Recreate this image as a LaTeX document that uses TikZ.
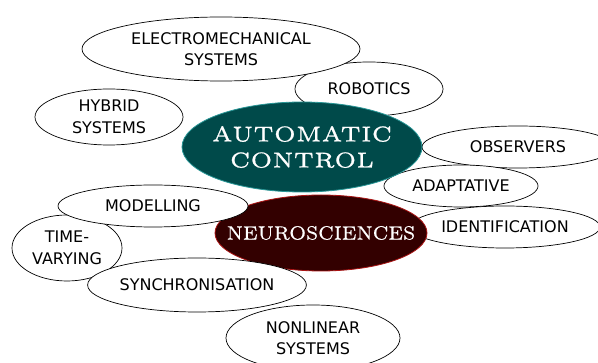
\documentclass[tikz,border=0pt]{standalone}
\usepackage{fontspec}
\newfontfamily\topicfont{DejaVu Sans}
\newfontfamily\controlfont[FakeBold=0.8]{lmroman5-regular.otf}
\newfontfamily\neurofont[FakeBold=0.6]{lmroman7-regular.otf}
\usetikzlibrary{shapes.geometric}

\definecolor{controlfill}{RGB}{0,74,74}
\definecolor{controlline}{RGB}{40,150,150}
\definecolor{neurofill}{RGB}{51,0,0}
\definecolor{neuroline}{RGB}{170,20,20}

\tikzstyle{topic}=[draw,line width=0.7pt,ellipse,fill=white,align=center,inner sep=0pt,
  font=\topicfont\fontsize{16}{21.5}\selectfont]
\tikzstyle{hub}=[draw,thick,ellipse,align=center,inner sep=0pt,text=white]
% zero-width line, so that the hub keeps the size it is given
\newcommand{\hubline}[1]{\makebox[0pt]{#1}}

\begin{document}
\begin{tikzpicture}[x=1pt, y=-1pt]
    \useasboundingbox (0,0) rectangle (598,363);
    \clip (0,0) rectangle (598,363);
    % First the topics that lie behind the two hubs
    \foreach \pos/\name/\w/\h/\txt in {{(313,338)/nonlinear/174/66/{NONLINEAR\\SYSTEMS}},
        {(369,89)/robotics/148/54/ROBOTICS},
        {(221,49)/electro/278/64/{ELECTROMECHANICAL\\SYSTEMS}},
        {(109,117)/hybrid/148/56/{HYBRID\\SYSTEMS}},
        {(518,147)/observers/192/42/OBSERVERS},
        {(505,227)/identification/190/42/IDENTIFICATION},
        {(461,186)/adaptative/154/42/ADAPTATIVE}}
        \node[topic, minimum width=\w, minimum height=\h] (\name) at \pos {\txt};
    % The two hubs
    \node[hub, fill=controlfill, draw=controlline, minimum width=240, minimum height=90,
      font=\controlfont\fontsize{21.5}{26}\selectfont] (control) at (302,147)
      {\hubline{AUTOMATIC}\\\hubline{CONTROL}};
    \node[hub, fill=neurofill, draw=neuroline, minimum width=212, minimum height=76,
      font=\neurofont\fontsize{19.2}{24}\selectfont] (neuro) at (321,233)
      {\hubline{NEUROSCIENCES}};
    % Then the topics that lie over them
    \foreach \pos/\name/\w/\h/\txt in {{(67,248)/timevarying/110/66/{TIME-\\VARYING}},
        {(153,206)/modelling/190/42/MODELLING},
        {(197,285)/synchro/208/54/SYNCHRONISATION}}
        \node[topic, minimum width=\w, minimum height=\h] (\name) at \pos {\txt};
\end{tikzpicture}
\end{document}
